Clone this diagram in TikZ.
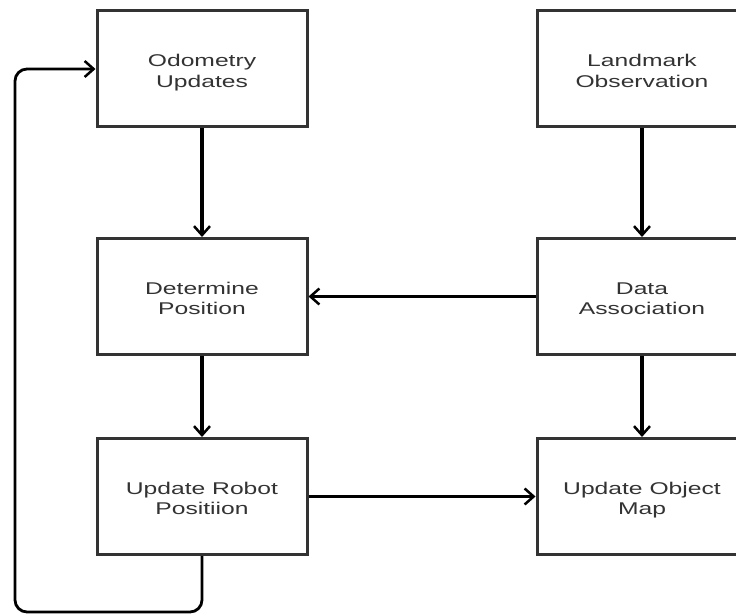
\documentclass[tikz,border=0pt]{standalone}
\usepackage{fontspec}
\setmainfont{Liberation Sans}
\usetikzlibrary{arrows.meta}
\newcommand{\boxtext}[1]{\raisebox{-4pt}[\height][\depth]{\scalebox{1.45}[1]{\begin{tabular}{@{}c@{}}#1\end{tabular}}}}
\begin{document}
\begin{tikzpicture}[x=1pt,y=-1pt,
  blk/.style={draw=black!80, line width=3pt, minimum width=210pt, minimum height=116pt, inner sep=0pt, text=black!80, font=\fontsize{17}{20.5}\selectfont, fill=white},
  conn/.style={line width=2.5pt, draw=black, -{Straight Barb[length=9pt,width=16pt,line width=2.5pt]}},
  vconn/.style={conn, line width=3.2pt}]
\useasboundingbox (0,0) rectangle (736,615);
\clip (0,0) rectangle (736,615);
\fill[white] (0,0) rectangle (736,615);
\node[blk] (odo) at (202,69) {\boxtext{Odometry\\Updates}};
\node[blk] (land) at (642,69) {\boxtext{Landmark\\Observation}};
\node[blk] (det) at (202,296.5) {\boxtext{Determine\\Position}};
\node[blk] (data) at (642,296.5) {\boxtext{Data\\Association}};
\node[blk] (upr) at (202,496.5) {\boxtext{Update Robot\\Positiion}};
\node[blk] (upo) at (642,496.5) {\boxtext{Update Object\\Map}};
\draw[vconn] (odo) -- (det);
\draw[vconn] (land) -- (data);
\draw[conn] (data) -- (det);
\draw[vconn] (det) -- (upr);
\draw[vconn] (data) -- (upo);
\draw[conn] (upr) -- (upo);
\coordinate (loopcorner) at (15,612);
\draw[conn, line width=2.8pt, rounded corners=12pt] (upr.south) |- (loopcorner) |- (odo.west);
\end{tikzpicture}
\end{document}
